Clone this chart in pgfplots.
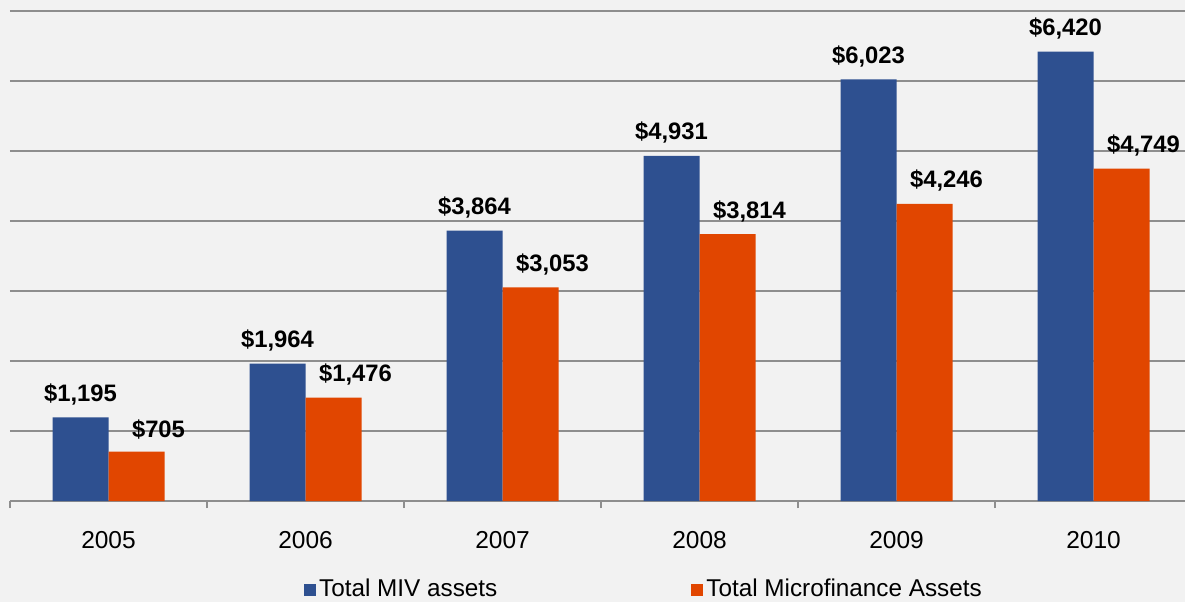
\documentclass[border=0pt]{standalone}
\usepackage{fontspec}
\setmainfont{Liberation Sans}
\usepackage{pgfplots}
\pgfplotsset{compat=1.18}

\definecolor{bg}{HTML}{F2F2F2}
\definecolor{mivblue}{HTML}{2E5090}
\definecolor{mforange}{HTML}{E14600}
\definecolor{gridgray}{HTML}{8E8E8E}

\begin{document}
\fontsize{23.5}{28}\selectfont
\begin{tikzpicture}
% background, same box as the page
\fill[bg] (-10pt,-101pt) rectangle (1175pt,501pt);
\begin{axis}[
    scale only axis,
    width=1175pt, height=490pt,
    at={(0pt,0pt)}, anchor=south west,
    ybar=0pt,
    bar width=56pt,
    xmin=-0.5, xmax=5.464,
    ymin=0, ymax=7000,
    enlarge y limits=false,
    axis lines*=left,
    x axis line style={gridgray, line width=1.2pt},
    y axis line style={draw=none},
    xtick={0,1,2,3,4,5},
    xticklabels={2005,2006,2007,2008,2009,2010},
    minor xtick={-0.5,0.5,1.5,2.5,3.5,4.5,5.5},
    major tick length=0pt,
    minor tick length=7pt,
    tick align=outside,
    xtick style={gridgray, line width=1.2pt},
    xticklabel style={font=\fontsize{24.5}{29}\selectfont, inner sep=0pt, yshift=-30pt},
    ytick={0,1000,...,7000},
    yticklabels={},
    ytick style={draw=none},
    ymajorgrids=true,
    grid style={gridgray, line width=1.2pt},
    clip=false,
    /pgf/number format/assume math mode=true,
    /pgf/number format/1000 sep={,},
    nodes near coords={\$\pgfmathprintnumber{\pgfplotspointmeta}},
    every node near coord/.append style={font=\fontsize{23.8}{28}\selectfont\bfseries, anchor=south, inner sep=0pt, yshift=12pt, black},
    legend columns=2,
    legend style={at={(0.54,-0.181)}, anchor=center, draw=none, fill=none,
        font=\fontsize{24.3}{29}\selectfont,
        nodes={inner sep=3pt},
        /tikz/every even column/.append style={column sep=191pt}},
    legend image code/.code={\fill[#1] (0pt,-6pt) rectangle (12pt,6pt);},
]
\addplot[fill=mivblue, draw=none] coordinates {
    (0,1195) (1,1964) (2,3864) (3,4931) (4,6023) (5,6420)
};
\addplot[fill=mforange, draw=none, every node near coord/.append style={xshift=22pt}] coordinates {
    (0,705) (1,1476) (2,3053) (3,3814) (4,4246) (5,4749)
};
\legend{Total MIV assets, Total Microfinance Assets}
\end{axis}
\pgfresetboundingbox
\useasboundingbox (-10pt,-101pt) rectangle (1175pt,501pt);
\end{tikzpicture}
\end{document}
